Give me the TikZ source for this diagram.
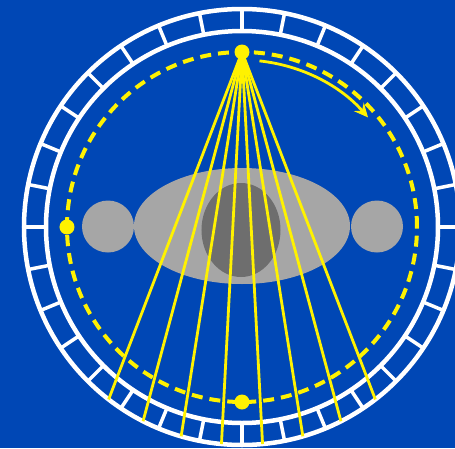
\documentclass[tikz,border=0pt]{standalone}
\usepackage{tikz}
\usetikzlibrary{arrows.meta}
\usetikzlibrary{calc}

\definecolor{scanblue}{RGB}{0,71,181}
\definecolor{bodygray}{RGB}{166,166,166}
\definecolor{organgray}{RGB}{110,110,110}

\begin{document}
\begin{tikzpicture}
[x=1pt,y=1pt,
  ringdecorate/.style={draw=white,line width=4.5pt},
  celldecorate/.style={draw=white,line width=3.5pt},
  orbitdecorate/.style={draw=yellow,line width=4pt,dash pattern=on 11pt off 7pt},
  beamdecorate/.style={draw=yellow,line width=2.8pt},
  dotdecorate/.style={shape=circle,fill=yellow,inner sep=0pt,minimum size=15pt},
  turndecorate/.style={draw=yellow,line width=2.8pt,-{Stealth[length=14pt,width=13pt,inset=5pt]}}]
%% background
\fill[scanblue] (-242,-221) rectangle (213,227);
\useasboundingbox (-242,-221) rectangle (213,227);
\coordinate (iso) at (0,0);
%% detector ring
\draw[ringdecorate] (iso) circle[radius=218];
\draw[ringdecorate] (iso) circle[radius=196];
\foreach \a in {0,11.25,...,359}
{
  \draw[celldecorate] (\a:196) -- (\a:218);
}
%% patient
\fill[bodygray] (0,1) ellipse[x radius=108,y radius=58];
\fill[organgray] (-1,-3) ellipse[x radius=39.5,y radius=47];
\fill[bodygray] (-134,0.5) circle[radius=26];
\fill[bodygray] (135,0.5) circle[radius=26];
%% source orbit
\draw[orbitdecorate] (iso) circle[radius=175];
\draw[turndecorate] (84:167) arc[start angle=84,end angle=41,radius=167];
%% source positions
\node (src) at (90:175) [dotdecorate] {};
\node (left) at (180:175) [dotdecorate] {};
\node (bottom) at (270:175) [dotdecorate] {};
%% fan beam, each ray ends on the outer ring
\foreach \a [count=\i] in {-21,-15,-9,-3,3,9,15,21}
{
  \pgfmathsetmacro\len{100*(1.75*cos(\a)+sqrt((1.75*cos(\a))^2+2.18^2-1.75^2))}
  \path (src.center) ++(-90+\a:\len) coordinate (ray\i);
  \draw[beamdecorate] (src.center) -- (ray\i);
}
\end{tikzpicture}
\end{document}
